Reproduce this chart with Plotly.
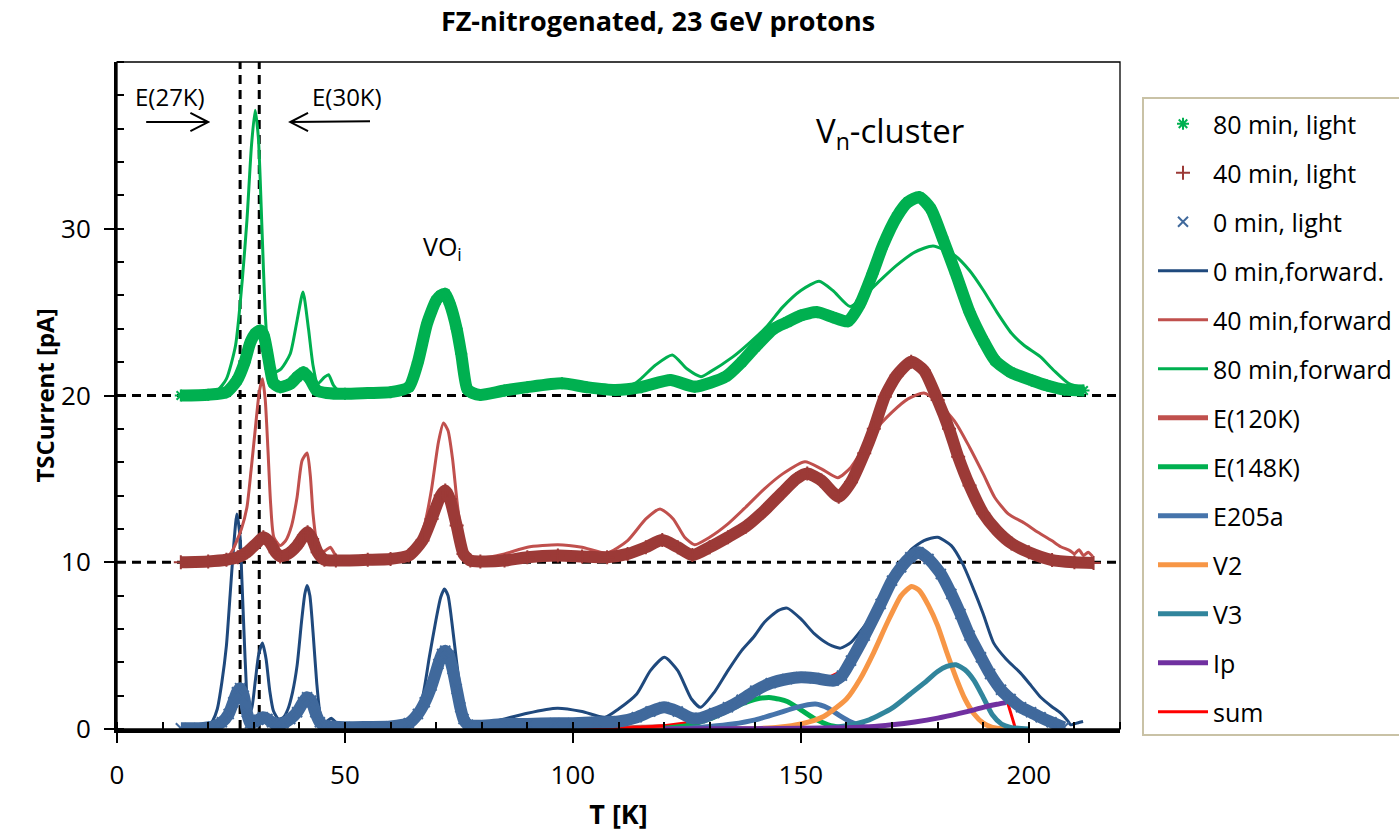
import plotly.graph_objects as go

# ---------------- data ----------------
# 0 min, forward (thin dark blue)
T_F0 = [14, 18, 20, 21, 22, 23, 24, 24.8, 25.6, 26.3,
        27, 27.4, 27.9, 28.3, 28.8, 29.5, 30.3, 31.1, 31.9, 32.7,
        33.5, 34.3, 35.4, 36.5, 37.5, 38.5, 39.5, 40.5, 41.2, 41.7,
        42.3, 43, 43.8, 44.5, 45.3, 46.2, 47, 47.8, 49, 52,
        56, 60, 63, 65, 67, 68.5, 70, 71, 71.8, 72.6,
        73.5, 74.5, 75.5, 76.5, 78, 80, 85, 90, 96.6, 102,
        107, 110, 114, 117, 120.1, 123, 126, 128, 131, 134,
        137, 139.6, 142, 145, 147, 150, 153, 156, 158.7, 161,
        164, 167.5, 171, 174, 177, 180, 183, 185.5, 188, 190,
        192.3, 195, 198.2, 200.5, 202.6, 205, 207, 208.5, 209.2, 210.5,
        211.9]
I_F0 = [0.0, 0.02, 0.15, 0.5, 1.2, 2.8, 5.0, 8.0, 11.0, 12.9,
        11.5, 8.9, 5.5, 3.0, 1.0, 1.2, 2.8, 4.5, 5.15, 4.2,
        2.3, 1.1, 0.6, 0.7, 1.2, 2.2, 3.8, 6.5, 8.1, 8.6,
        8.0, 5.8, 2.8, 1.0, 0.35, 0.5, 0.65, 0.45, 0.2, 0.1,
        0.1, 0.15, 0.25, 0.6, 1.9, 4.3, 6.6, 7.9, 8.4, 8.0,
        6.3, 4.0, 2.0, 0.9, 0.3, 0.25, 0.6, 0.95, 1.25, 1.05,
        0.7, 1.2, 2.1, 3.5, 4.3, 3.5, 1.8, 1.3, 2.2, 3.5,
        4.7, 5.5, 6.4, 7.1, 7.25, 6.6, 5.7, 5.1, 4.85, 5.2,
        6.2, 7.5, 9.4, 10.7, 11.3, 11.5, 11.0, 9.9, 8.3, 6.9,
        5.15, 4.2, 3.35, 2.6, 1.9, 1.35, 0.95, 0.5, 0.25, 0.35,
        0.45]

# 0 min, light (steel-blue markers)
T_L0 = [14, 18, 21, 23, 24.5, 25.5, 26.3, 27, 27.8, 28.5,
        29.2, 30, 31, 32, 33, 34, 35, 36.5, 38, 39.5,
        40.8, 41.7, 42.6, 43.5, 44.5, 45.5, 47, 50, 55, 60,
        64, 66, 67.5, 69, 70.5, 71.3, 72, 72.8, 73.6, 74.5,
        75.3, 76, 77, 80, 85, 90, 96, 100, 105, 110,
        114, 117, 120, 123, 126, 128, 131, 134, 137, 140,
        143.4, 147, 150, 153, 157.2, 159, 161, 164, 167.5, 170,
        172, 174, 175.8, 178, 180.7, 183, 185, 187, 189.5, 191.5,
        193.9, 196, 198.3, 200.5, 202.6, 205, 207.7]
I_L0 = [0.05, 0.05, 0.15, 0.4, 0.9, 1.6, 2.2, 2.45, 2.0, 1.0,
        0.35, 0.4, 0.55, 0.7, 0.6, 0.4, 0.3, 0.35, 0.6, 1.0,
        1.6, 1.9, 1.7, 1.0, 0.4, 0.2, 0.15, 0.1, 0.12, 0.15,
        0.35, 0.9, 1.6, 2.6, 3.9, 4.5, 4.7, 4.4, 3.6, 2.4,
        1.3, 0.6, 0.25, 0.2, 0.3, 0.3, 0.35, 0.35, 0.4, 0.45,
        0.7, 1.05, 1.3, 1.05, 0.65, 0.65, 0.95, 1.3, 1.75, 2.3,
        2.75, 3.0, 3.1, 3.05, 2.9, 3.2, 4.1, 5.6, 7.5, 8.9,
        9.7, 10.3, 10.6, 10.2, 9.3, 8.1, 6.9, 5.6, 4.3, 3.3,
        2.35, 1.8, 1.3, 1.0, 0.7, 0.4, 0.1]

# 40 min, forward (thin red), offset +10
T_F40 = [14, 18, 21, 23, 24.5, 25.5, 26.3, 27.3, 28.5, 29.4,
         30.3, 31.2, 31.9, 32.5, 33.1, 33.7, 34.4, 35.8, 37, 38.3,
         39.5, 40.6, 41.7, 42.4, 43, 43.8, 44.6, 45.7, 46.8, 48,
         50, 55, 60, 64, 66, 67.5, 69, 70.5, 71.6, 72.6,
         73.6, 74.6, 75.6, 76.8, 78, 79.7, 85, 90, 96.7, 102,
         107.5, 112, 116, 119.1, 122, 124.5, 126.7, 130, 134, 137.9,
         142, 146, 150.9, 154.5, 158.1, 161, 165.8, 170, 173.5, 177,
         180, 184, 187, 190, 192.5, 195.5, 199, 202, 205, 207,
         209, 210, 211, 212, 213, 214]
I_F40 = [10.0, 10.02, 10.1, 10.2, 10.4, 10.8, 11.3, 12.0, 13.3, 15.5,
         17.9, 20.2, 21.0, 19.8, 16.8, 13.5, 11.5, 11.0, 11.3, 12.2,
         13.9, 16.1, 16.55, 15.2, 12.9, 11.2, 10.55, 10.7, 10.9, 10.4,
         10.15, 10.1, 10.1, 10.4, 11.2, 12.3, 14.4, 17.2, 18.35, 17.9,
         16.2, 13.6, 11.6, 10.6, 10.3, 10.25, 10.5, 10.9, 11.05, 10.9,
         10.55, 11.3, 12.6, 13.2, 12.6, 11.5, 11.05, 11.5, 12.3, 13.3,
         14.4, 15.3, 16.03, 15.6, 15.07, 15.7, 17.75, 19.0, 19.8, 20.15,
         19.6, 18.35, 16.9, 15.3, 13.9, 12.9, 12.35, 11.8, 11.3, 10.93,
         10.7, 10.5, 10.75, 10.4, 10.6, 10.35]

# 40 min, light (dark red markers), offset +10
T_L40 = [14, 20, 24, 26.5, 28.5, 30.5, 32.1, 33.5, 34.8, 35.8,
         37.5, 39.5, 41, 41.8, 42.8, 44, 45.5, 48, 55, 60,
         64, 67, 69, 71, 72, 73, 74.5, 76, 77.5, 79.7,
         85, 90, 96.7, 102, 107.5, 112, 116, 119.6, 123, 126.2,
         130, 134, 137.9, 142, 146, 149, 151.4, 154.5, 158.3, 161,
         163.9, 166, 168.4, 171, 174.2, 177, 180, 182.5, 184.5, 187,
         190, 193, 196.2, 200, 205.1, 210, 214.2]
I_L40 = [10.0, 10.05, 10.15, 10.3, 10.6, 11.1, 11.5, 11.2, 10.6, 10.35,
         10.5, 11.0, 11.6, 11.8, 11.4, 10.6, 10.15, 10.1, 10.15, 10.2,
         10.4, 11.3, 12.6, 14.0, 14.3, 13.8, 12.2, 10.5, 10.1, 10.05,
         10.1, 10.3, 10.4, 10.35, 10.3, 10.5, 10.9, 11.33, 10.9, 10.43,
         10.9, 11.5, 12.13, 13.1, 14.2, 15.0, 15.32, 14.9, 13.93, 14.8,
         16.53, 18.0, 19.93, 21.2, 22.03, 21.5, 19.73, 18.0, 16.33, 14.6,
         12.93, 11.9, 11.13, 10.6, 10.13, 10.0, 9.95]

# 80 min, forward (thin green), offset +20
T_F80 = [14, 18, 22, 24, 26, 27.5, 28.5, 29.5, 30.3, 31,
         31.8, 32.5, 33.2, 34.5, 36, 38, 39.5, 40.8, 42, 43,
         44, 45.5, 46.4, 47.5, 49, 55, 60, 64, 66, 68,
         70, 71, 72, 73, 74.5, 75.5, 76.5, 78, 79.7, 85,
         90, 97.6, 103, 109.3, 114, 118, 121.8, 125, 128.1, 130,
         135, 138.5, 142.4, 146, 150, 154, 157, 160.8, 164, 167.5,
         171, 175, 179, 183.6, 187, 190, 193, 196.2, 199, 202.5,
         205.5, 208.7, 212.3]
I_F80 = [20.0, 20.02, 20.3, 21.0, 23.0, 27.0, 30.5, 35.0, 37.1, 35.5,
         30.0, 25.0, 22.5, 21.4, 21.6, 22.5, 24.5, 26.2, 24.0, 21.8,
         20.7, 21.1, 21.25, 20.6, 20.2, 20.15, 20.2, 20.5, 21.8, 24.2,
         25.7, 26.1, 26.2, 25.6, 24.0, 22.5, 20.9, 20.25, 20.13, 20.4,
         20.7, 20.83, 20.6, 20.33, 20.8, 21.8, 22.43, 21.6, 21.13, 21.4,
         22.3, 23.1, 24.1, 25.3, 26.3, 26.85, 26.3, 25.33, 26.0, 26.93,
         27.8, 28.6, 28.97, 28.43, 27.5, 26.33, 25.0, 23.73, 23.0, 22.33,
         21.5, 20.73, 20.43]

# 80 min, light (green markers), offset +20
T_L80 = [14, 20, 24, 26.3, 28, 29.2, 30.3, 31.4, 32.2, 32.9,
         33.6, 34.3, 35.8, 38, 39.5, 40.9, 42.3, 43.8, 46, 50,
         55, 60, 64, 66, 68, 70, 71, 72, 73, 74.5,
         75.5, 76.8, 78, 79.7, 85, 90, 97.6, 103, 109.3, 115,
         121.4, 126.7, 133.5, 137, 140, 144, 147, 150, 153.6, 157,
         160.3, 163, 165.7, 168, 171, 173.5, 176, 178.5, 181, 184,
         187, 190, 192.6, 196, 200.7, 204, 207.8, 212]
I_L80 = [20.0, 20.05, 20.2, 20.9, 22.0, 23.15, 23.7, 23.9, 23.6, 22.7,
         21.6, 20.75, 20.5, 20.7, 21.1, 21.4, 21.0, 20.3, 20.15, 20.1,
         20.15, 20.2, 20.5, 22.0, 24.3, 25.7, 26.0, 26.1, 25.5, 24.0,
         22.5, 20.4, 20.15, 20.03, 20.3, 20.5, 20.73, 20.5, 20.33, 20.5,
         20.93, 20.53, 21.13, 22.0, 22.9, 24.0, 24.4, 24.8, 25.0, 24.7,
         24.45, 25.5, 27.3, 29.0, 30.7, 31.6, 31.9, 31.2, 29.5, 27.3,
         25.0, 23.3, 22.1, 21.4, 20.9, 20.6, 20.35, 20.3]

# fit components
T_E120 = [100, 105, 110, 115, 120, 124, 128, 132, 136, 140]
I_E120 = [0.0, 0.01, 0.04, 0.1, 0.15, 0.12, 0.07, 0.03, 0.01, 0.0]

T_E148 = [120, 125, 130, 134, 137, 140, 143.5, 147, 150, 153, 156, 159, 162]
I_E148 = [0.05, 0.2, 0.6, 1.1, 1.5, 1.78, 1.88, 1.65, 1.15, 0.62, 0.25, 0.08, 0.0]

T_E205 = [120, 125, 130, 135, 140, 145, 149, 153.2, 156, 158.5, 161, 164, 167]
I_E205 = [0.0, 0.05, 0.15, 0.3, 0.55, 0.95, 1.3, 1.5, 1.25, 0.8, 0.42, 0.12, 0.02]

T_V2 = [140, 145, 150, 155, 160, 163, 166, 169, 172, 174.3,
        176, 178, 180, 182, 184, 186, 188, 190, 192, 195]
I_V2 = [0.02, 0.1, 0.3, 0.75, 1.8, 3.0, 4.6, 6.4, 8.0, 8.55,
        8.3, 7.4, 6.2, 4.6, 3.1, 1.8, 0.9, 0.35, 0.1, 0.0]

T_V3 = [155, 160, 165, 170, 174, 177, 180, 182, 184, 186, 188, 190, 192, 194, 196, 200]
I_V3 = [0.05, 0.2, 0.55, 1.25, 2.1, 2.75, 3.45, 3.75, 3.85, 3.55, 2.9, 1.9, 0.85, 0.3, 0.1, 0.0]

T_IP = [120, 130, 140, 150, 160, 165, 170, 175, 180, 185, 188, 190, 193, 195]
I_IP = [0.0, 0.01, 0.02, 0.04, 0.08, 0.13, 0.25, 0.42, 0.65, 0.95, 1.15, 1.3, 1.48, 1.58]

T_SUM = [100, 105, 110, 115, 120, 125, 130, 135, 140, 145,
         150, 155, 160, 165, 170, 175, 180, 185, 190, 195, 197, 200]
I_SUM = [0.0, 0.01, 0.04, 0.1, 0.2, 0.37, 0.81, 1.53, 2.37, 2.86,
         3.0, 2.95, 3.6, 6.0, 8.8, 10.5, 9.5, 6.9, 3.7, 1.9, 0.1, 0.0]

X_TICKS = [0, 50, 100, 150, 200]
Y_TICKS = [0, 10, 20, 30]

# ---------------- figure ----------------
FONT = "Open Sans"
C_F0 = "#1F497D"
C_F40 = "#C0504D"
C_F80 = "#00B050"
C_L0 = "#40699C"
C_L40 = "#9C3A37"
C_L80 = "#00B050"

fig = go.Figure()


def add_line(name, T, I, color, width, rank, smooth=True):
    fig.add_trace(go.Scatter(x=T, y=I, mode="lines", name=name,
                             line=dict(color=color, width=width,
                                       shape="spline" if smooth else "linear",
                                       smoothing=0.6),
                             legendgroup=name, legendrank=rank,
                             hoverinfo="skip"))


def add_band(name, T, I, color, symbol, rank):
    fig.add_trace(go.Scatter(x=T, y=I, mode="lines", showlegend=False,
                             line=dict(color=color, width=12, shape="spline", smoothing=0.6),
                             legendgroup=name, hoverinfo="skip"))
    fig.add_trace(go.Scatter(x=T, y=I, mode="markers", name=name,
                             marker=dict(symbol=symbol, size=10, color=color,
                                         line=dict(color=color, width=2)),
                             legendgroup=name, legendrank=rank,
                             hoverinfo="skip"))


add_line("E(120K)", T_E120, I_E120, "#C0504D", 5, 7)
add_line("sum", T_SUM, I_SUM, "#FF0000", 3, 13, smooth=False)
add_line("E(148K)", T_E148, I_E148, "#00B050", 5, 8)
add_line("E205a", T_E205, I_E205, "#4674AB", 5, 9)
add_line("V2", T_V2, I_V2, "#F79646", 5, 10)
add_line("V3", T_V3, I_V3, "#31859C", 5, 11)
add_line("Ip", T_IP, I_IP, "#7030A0", 5, 12)
add_line("0 min,forward.", T_F0, I_F0, C_F0, 3, 4)
add_line("40 min,forward", T_F40, I_F40, C_F40, 3, 5)
add_line("80 min,forward", T_F80, I_F80, C_F80, 3, 6)
add_band("0 min, light", T_L0, I_L0, C_L0, "x-thin-open", 3)
add_band("40 min, light", T_L40, I_L40, C_L40, "cross-thin-open", 2)
add_band("80 min, light", T_L80, I_L80, C_L80, "asterisk-open", 1)

DASH = dict(color="black", width=3, dash="9px,6px")
shapes = []
for yv in (10, 20):
    shapes.append(dict(type="line", xref="x", yref="y", x0=0, x1=220, y0=yv, y1=yv,
                       line=DASH, layer="below"))
for xv in (27, 31.2):
    shapes.append(dict(type="line", xref="x", yref="y", x0=xv, x1=xv, y0=0, y1=40,
                       line=DASH, layer="below"))
# plot frame
shapes.append(dict(type="rect", xref="paper", yref="paper", x0=0, x1=1, y0=0, y1=1,
                   line=dict(color="black", width=1.3), layer="above"))
# legend frame (runs past the right edge of the picture, as in the original)
PW, PH = 1003.0, 667.0
shapes.append(dict(type="rect", xref="paper", yref="paper",
                   x0=(1143 - 117) / PW, x1=(1420 - 117) / PW,
                   y0=(729 - 735) / PH, y1=(729 - 98) / PH,
                   line=dict(color="#C9C2A6", width=2), fillcolor="white", layer="below"))
# arrows (annotation strokes)
ya = 36.4
dx, dy = 3.9, 0.55
shapes.append(dict(type="path", xref="x", yref="y",
                   path=f"M 6.4,{ya} L 20.0,{ya} M {20.0-dx},{ya+dy} L 20.0,{ya} L {20.0-dx},{ya-dy}",
                   line=dict(color="black", width=2)))
shapes.append(dict(type="path", xref="x", yref="y",
                   path=f"M 55.5,{ya+0.05} L 38.0,{ya} M {38.0+dx},{ya+dy} L 38.0,{ya} L {38.0+dx},{ya-dy}",
                   line=dict(color="black", width=2)))

annotations = [
    dict(x=11.6, y=37.95, xref="x", yref="y", text="E(27K)", showarrow=False,
         font=dict(family=FONT, size=24, color="black")),
    dict(x=50.5, y=37.95, xref="x", yref="y", text="E(30K)", showarrow=False,
         font=dict(family=FONT, size=24, color="black")),
    dict(x=71.5, y=28.9, xref="x", yref="y", text="VO<sub>i</sub>", showarrow=False,
         font=dict(family=FONT, size=25, color="black")),
    dict(x=169.5, y=35.8, xref="x", yref="y", text="V<sub>n</sub>-cluster", showarrow=False,
         font=dict(family=FONT, size=33, color="black")),
]

fig.update_layout(
    width=1399, height=832,
    margin=dict(l=117, r=279, t=62, b=103, autoexpand=False),
    paper_bgcolor="white", plot_bgcolor="white",
    font=dict(family=FONT, color="black"),
    title=dict(text="<b>FZ-nitrogenated, 23 GeV protons</b>", x=658 / 1399, xanchor="center",
               xref="container", y=1 - 22 / 832, yanchor="middle", yref="container",
               font=dict(family=FONT, size=27, color="black")),
    showlegend=True,
    legend=dict(x=(1153 - 117) / PW, y=(729 - 101) / PH, xanchor="left", yanchor="top",
                bgcolor="rgba(0,0,0,0)", borderwidth=0,
                font=dict(family=FONT, size=25, color="black"),
                traceorder="grouped", tracegroupgap=13.5, itemwidth=50),
    shapes=shapes, annotations=annotations,
)

fig.update_xaxes(range=[0, 220], tickvals=X_TICKS, showgrid=False, zeroline=False,
                 automargin=False,
                 showline=True, linecolor="black", linewidth=3.5,
                 ticks="outside", ticklen=10, tickwidth=2, tickcolor="black",
                 minor=dict(dtick=10, ticks="inside", ticklen=7, tickwidth=2, tickcolor="black"),
                 tickfont=dict(family=FONT, size=26, color="black"), ticklabelstandoff=10,
                 title=dict(text="<b>T [K]</b>", font=dict(family=FONT, size=27, color="black"),
                            standoff=20))
fig.update_yaxes(range=[0, 40], tickvals=Y_TICKS, showgrid=False, zeroline=False,
                 automargin=False,
                 showline=True, linecolor="black", linewidth=3,
                 ticks="outside", ticklen=10, tickwidth=2, tickcolor="black",
                 minor=dict(dtick=2, ticks="inside", ticklen=7, tickwidth=2, tickcolor="black"),
                 tickfont=dict(family=FONT, size=26, color="black"), ticklabelstandoff=8,
                 title=dict(text="<b>TSCurrent [pA]</b>", font=dict(family=FONT, size=24, color="black"),
                            standoff=0))

fig.write_html("out.html")
